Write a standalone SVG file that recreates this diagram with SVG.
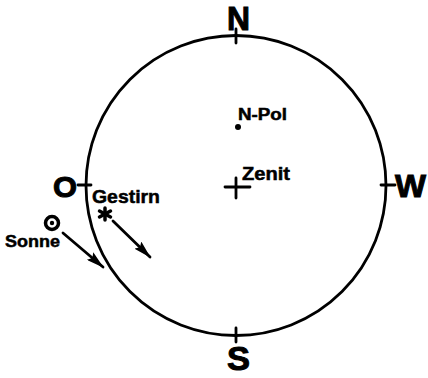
<svg xmlns="http://www.w3.org/2000/svg" width="428" height="378" viewBox="0 0 428 378">
<style>
.ln{stroke:#000;stroke-width:2.8;fill:none;stroke-linecap:round}
.big{font-family:"Liberation Sans",Arial,sans-serif;font-weight:bold;fill:#000;stroke:#000;stroke-width:1}
.lbl{font-family:"Liberation Sans",Arial,sans-serif;font-weight:bold;fill:#000;stroke:#000;stroke-width:0.5}
</style>
<defs>
<marker id="ah" viewBox="0 0 18 10" refX="17" refY="5" markerWidth="18" markerHeight="10" markerUnits="userSpaceOnUse" orient="auto">
<path d="M0,0 L18,5 L0,10 L3,5 Z" fill="#000"/>
</marker>
</defs>
<rect width="428" height="378" fill="#fff"/>
<g id="horizon">
<ellipse cx="236" cy="185.5" rx="150" ry="150" class="ln"/>
<line x1="236" y1="29" x2="236" y2="43" class="ln"/>
<line x1="236" y1="328" x2="236" y2="342" class="ln"/>
<line x1="381" y1="185" x2="395" y2="185" class="ln"/>
<line x1="78" y1="185" x2="91" y2="185" class="ln"/>
</g>
<g id="north"><text x="227" y="30" class="big" font-size="33" textLength="23" lengthAdjust="spacingAndGlyphs">N</text></g>
<g id="south"><text x="227" y="370" class="big" font-size="33" textLength="23" lengthAdjust="spacingAndGlyphs">S</text></g>
<g id="west"><text x="395" y="197" class="big" font-size="32" textLength="31" lengthAdjust="spacingAndGlyphs">W</text></g>
<g id="east"><text x="53" y="197" class="big" font-size="30" textLength="24" lengthAdjust="spacingAndGlyphs">O</text></g>
<g id="npol">
<circle cx="238" cy="127" r="3" fill="#000"/>
<text x="238" y="120" class="lbl" font-size="16" textLength="49" lengthAdjust="spacingAndGlyphs">N-Pol</text>
</g>
<g id="zenit">
<line x1="225" y1="187" x2="250" y2="187" class="ln" stroke-width="2.2"/>
<line x1="236" y1="178" x2="236" y2="198" class="ln" stroke-width="2.2"/>
<text x="242" y="180" class="lbl" font-size="19" textLength="48" lengthAdjust="spacingAndGlyphs">Zenit</text>
</g>
<g id="gestirn">
<text x="92" y="203" class="lbl" font-size="19" textLength="68" lengthAdjust="spacingAndGlyphs">Gestirn</text>
<g stroke="#000" stroke-width="3.5" stroke-linecap="round">
<line x1="105" y1="208" x2="105" y2="220"/>
<line x1="99.5" y1="211" x2="110.5" y2="217"/>
<line x1="99.5" y1="217" x2="110.5" y2="211"/>
</g>
</g>
<g id="sonne">
<circle cx="52" cy="223" r="6.5" fill="none" stroke="#000" stroke-width="3.5"/>
<circle cx="52" cy="223" r="2.2" fill="#000"/>
<text x="5" y="247" class="lbl" font-size="17" textLength="55" lengthAdjust="spacingAndGlyphs">Sonne</text>
</g>
<g id="connectors">
<line x1="113" y1="221" x2="150" y2="257" class="ln" marker-end="url(#ah)"/>
<line x1="63" y1="233" x2="103" y2="267" class="ln" marker-end="url(#ah)"/>
</g>
</svg>
